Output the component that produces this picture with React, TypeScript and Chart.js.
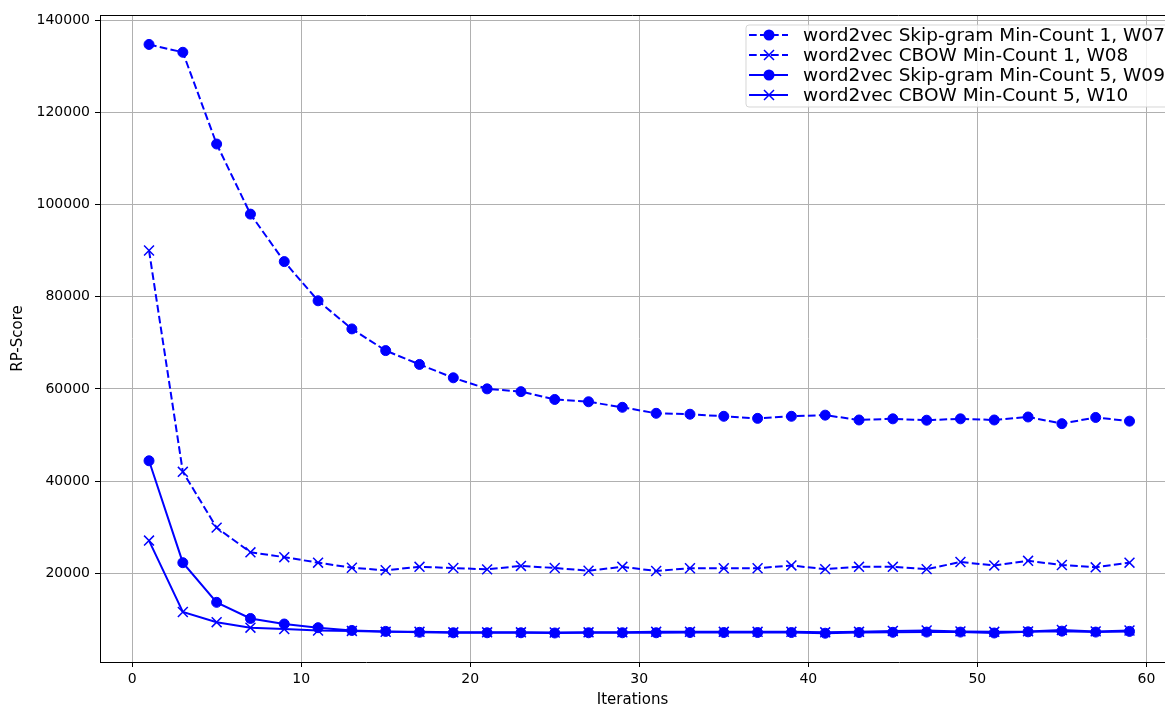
import React, { useEffect, useRef } from "react";
import { Chart, registerables } from "chart.js";

Chart.register(...registerables);

// Training iterations (odd counts 1..59)
const ITERATIONS = [1, 3, 5, 7, 9, 11, 13, 15, 17, 19, 21, 23, 25, 27, 29, 31, 33, 35, 37, 39, 41, 43, 45, 47, 49, 51, 53, 55, 57, 59];

// RP-Score per iteration for each model configuration
const SKIPGRAM_MC1_W07 = [134700, 133000, 113100, 97900, 87600, 79100, 73000, 68300, 65300, 62400, 60000, 59400, 57700, 57200, 56000, 54700, 54500, 54050, 53600, 54050, 54300, 53250, 53500, 53200, 53500, 53250, 53900, 52450, 53800, 53000];
const CBOW_MC1_W08 = [90000, 42000, 29900, 24550, 23500, 22300, 21200, 20650, 21400, 21150, 20850, 21600, 21150, 20550, 21400, 20500, 21100, 21100, 21100, 21700, 20900, 21400, 21400, 20900, 22450, 21700, 22700, 21800, 21300, 22300];
const SKIPGRAM_MC5_W09 = [44400, 22300, 13700, 10200, 9000, 8200, 7600, 7400, 7200, 7100, 7100, 7100, 7050, 7100, 7100, 7100, 7150, 7150, 7150, 7150, 7000, 7150, 7200, 7250, 7250, 7050, 7300, 7450, 7250, 7400];
const CBOW_MC5_W10 = [27100, 11600, 9400, 8200, 7900, 7600, 7500, 7300, 7300, 7200, 7200, 7200, 7150, 7200, 7200, 7300, 7300, 7300, 7300, 7300, 7200, 7300, 7500, 7600, 7400, 7300, 7400, 7700, 7400, 7600];

const SERIES_LABELS = [
  "word2vec Skip-gram Min-Count 1, W07",
  "word2vec CBOW Min-Count 1, W08",
  "word2vec Skip-gram Min-Count 5, W09",
  "word2vec CBOW Min-Count 5, W10",
];

const X_TICKS = [0, 10, 20, 30, 40, 50, 60];
const Y_TICKS = [20000, 40000, 60000, 80000, 100000, 120000, 140000];

const X_TITLE = "Iterations";
const Y_TITLE = "RP-Score";

const BLUE = "#0000ff";
const DASH = [7.7, 3.3];
const FONT = '"DejaVu Sans", sans-serif';

type Style = { dashed: boolean; marker: "circle" | "x" };
const STYLES: Style[] = [
  { dashed: true, marker: "circle" },
  { dashed: true, marker: "x" },
  { dashed: false, marker: "circle" },
  { dashed: false, marker: "x" },
];

function drawMarker(ctx: CanvasRenderingContext2D, m: "circle" | "x", x: number, y: number) {
  ctx.save();
  ctx.setLineDash([]);
  ctx.strokeStyle = BLUE;
  ctx.fillStyle = BLUE;
  if (m === "circle") {
    ctx.beginPath();
    ctx.arc(x, y, 5.5, 0, Math.PI * 2);
    ctx.fill();
  } else {
    ctx.lineWidth = 1.5;
    const h = 5;
    ctx.beginPath();
    ctx.moveTo(x - h, y - h);
    ctx.lineTo(x + h, y + h);
    ctx.moveTo(x - h, y + h);
    ctx.lineTo(x + h, y - h);
    ctx.stroke();
  }
  ctx.restore();
}

const framePlugin = {
  id: "frameAndLegend",
  afterDraw(chart: any) {
    const { ctx, chartArea } = chart;
    ctx.save();
    // top spine
    ctx.strokeStyle = "#000";
    ctx.lineWidth = 1;
    ctx.beginPath();
    ctx.moveTo(chartArea.left, chartArea.top + 0.5);
    ctx.lineTo(chartArea.right, chartArea.top + 0.5);
    ctx.stroke();

    // legend box
    ctx.font = `18.5px ${FONT}`;
    const textW = Math.max(...SERIES_LABELS.map((l) => ctx.measureText(l).width));
    const boxL = chartArea.left + 646;
    const boxT = chartArea.top + 10;
    const textX = boxL + 57;
    const boxW = 57 + textW + 7;
    const boxH = 82;
    const r = 3;
    ctx.beginPath();
    ctx.moveTo(boxL + r, boxT);
    ctx.lineTo(boxL + boxW - r, boxT);
    ctx.quadraticCurveTo(boxL + boxW, boxT, boxL + boxW, boxT + r);
    ctx.lineTo(boxL + boxW, boxT + boxH - r);
    ctx.quadraticCurveTo(boxL + boxW, boxT + boxH, boxL + boxW - r, boxT + boxH);
    ctx.lineTo(boxL + r, boxT + boxH);
    ctx.quadraticCurveTo(boxL, boxT + boxH, boxL, boxT + boxH - r);
    ctx.lineTo(boxL, boxT + r);
    ctx.quadraticCurveTo(boxL, boxT, boxL + r, boxT);
    ctx.closePath();
    ctx.fillStyle = "rgba(255,255,255,0.8)";
    ctx.fill();
    ctx.strokeStyle = "rgba(204,204,204,0.8)";
    ctx.lineWidth = 1;
    ctx.stroke();

    SERIES_LABELS.forEach((label, i) => {
      const cy = boxT + 10 + i * 20;
      const st = STYLES[i];
      ctx.save();
      ctx.strokeStyle = BLUE;
      ctx.lineWidth = 2;
      ctx.setLineDash(st.dashed ? DASH : []);
      ctx.beginPath();
      ctx.moveTo(boxL + 3, cy);
      ctx.lineTo(boxL + 42, cy);
      ctx.stroke();
      ctx.restore();
      drawMarker(ctx, st.marker, boxL + 23, cy);
      ctx.fillStyle = "#000";
      ctx.textBaseline = "middle";
      ctx.textAlign = "left";
      ctx.fillText(label, textX, cy + 1);
    });
    ctx.restore();
  },
};

export default function App() {
  const ref = useRef<HTMLCanvasElement | null>(null);

  useEffect(() => {
    if (!ref.current) return;
    const seriesValues = [SKIPGRAM_MC1_W07, CBOW_MC1_W08, SKIPGRAM_MC5_W09, CBOW_MC5_W10];
    const datasets = seriesValues.map((vals, i) => ({
      label: SERIES_LABELS[i],
      data: ITERATIONS.map((x, j) => ({ x, y: vals[j] })),
      borderColor: BLUE,
      backgroundColor: BLUE,
      borderWidth: 2,
      borderDash: STYLES[i].dashed ? DASH : [],
      pointStyle: STYLES[i].marker === "circle" ? "circle" : "crossRot",
      pointRadius: STYLES[i].marker === "circle" ? 5 : 7,
      pointBorderWidth: STYLES[i].marker === "circle" ? 1 : 1.5,
      pointBackgroundColor: BLUE,
      pointBorderColor: BLUE,
      tension: 0,
      fill: false,
      order: 4 - i,
    }));

    const chart = new Chart(ref.current, {
      type: "line",
      data: { datasets },
      plugins: [framePlugin],
      options: {
        animation: false,
        responsive: false,
        events: [],
        layout: { autoPadding: false, padding: { top: 15, right: 0, left: 0, bottom: 0 } },
        plugins: { legend: { display: false }, tooltip: { enabled: false } },
        scales: {
          x: {
            type: "linear",
            min: -1.9,
            max: 61.1,
            afterBuildTicks: (s: any) => {
              s.ticks = X_TICKS.map((v) => ({ value: v }));
            },
            afterFit: (s: any) => {
              s.height = 46;
              s.paddingLeft = 0;
              s.paddingRight = 0;
            },
            ticks: {
              includeBounds: false,
              color: "#000",
              font: { family: FONT, size: 14 },
              padding: 4,
              maxRotation: 0,
              callback: (v: any) => String(v),
            },
            grid: { color: "#b0b0b0", lineWidth: 1, tickColor: "#000", tickLength: 5 },
            border: { display: true, color: "#000", width: 1 },
            title: {
              display: true,
              text: X_TITLE,
              color: "#000",
              font: { family: FONT, size: 15, lineHeight: 1 },
              padding: { top: 0, bottom: 0 },
            },
          },
          y: {
            type: "linear",
            min: 760,
            max: 141085,
            afterBuildTicks: (s: any) => {
              s.ticks = Y_TICKS.map((v) => ({ value: v }));
            },
            afterFit: (s: any) => {
              s.width = 100;
              s.paddingTop = 0;
              s.paddingBottom = 0;
            },
            ticks: {
              includeBounds: false,
              color: "#000",
              font: { family: FONT, size: 14 },
              padding: 5,
              callback: (v: any) => String(v),
            },
            grid: { color: "#b0b0b0", lineWidth: 1, tickColor: "#000", tickLength: 5 },
            border: { display: true, color: "#000", width: 1 },
            title: {
              display: true,
              text: Y_TITLE,
              color: "#000",
              font: { family: FONT, size: 15, lineHeight: 1.2 },
              padding: { top: 9, bottom: 0 },
            },
          },
        },
      },
    } as any);
    return () => chart.destroy();
  }, []);

  return (
    <div style={{ position: "fixed", left: 0, top: 0, width: 1165, height: 708, overflow: "hidden", background: "#fff" }}>
      <canvas ref={ref} width={1165} height={708} style={{ display: "block" }} />
    </div>
  );
}
